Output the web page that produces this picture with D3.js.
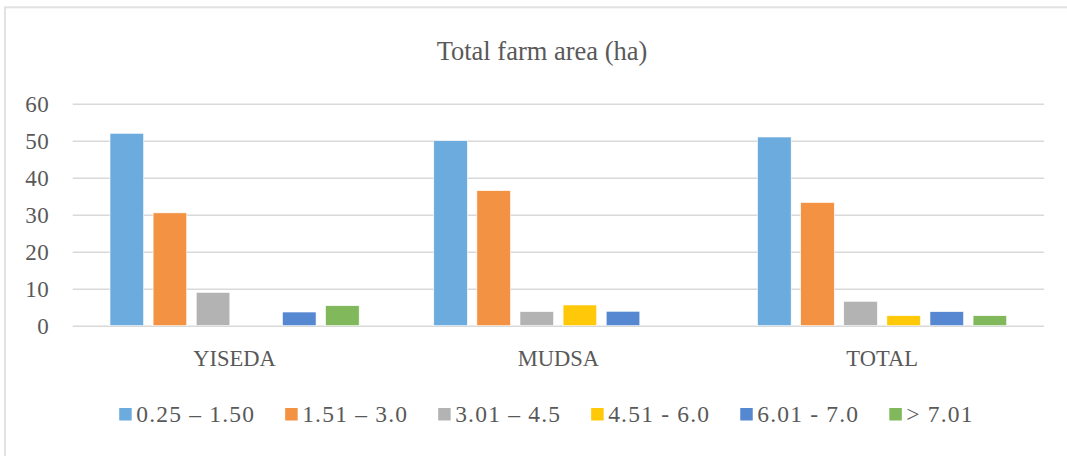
<!DOCTYPE html>
<html>
<head>
<meta charset="utf-8">
<script src="https://cdn.jsdelivr.net/npm/d3@7"></script>
<style>
  html, body { margin: 0; padding: 0; background: #fff; }
  svg { display: block; }
</style>
</head>
<body>
<svg id="chart" width="1067" height="456"></svg>
<script>
// Farm size classes (ha) and the share of households in each, by site
const categories = ["YISEDA", "MUDSA", "TOTAL"];
const seriesNames = ["0.25 – 1.50", "1.51 – 3.0", "3.01 – 4.5", "4.51 - 6.0", "6.01 - 7.0", "> 7.01"];
const yiseda = [52, 30.5, 9, 0, 3.7, 5.4];
const mudsa  = [50, 36.5, 3.8, 5.6, 3.9, 0];
const total  = [51, 33.3, 6.6, 2.7, 3.8, 2.7];
const yTicks = [0, 10, 20, 30, 40, 50, 60];
const colors = ["#6CABDD", "#F39243", "#B3B3B3", "#FFC90A", "#5688D1", "#80B85B"];

const rows = [yiseda, mudsa, total];

const svg = d3.select("#chart");
const W = 1067, H = 456;
const margin = { left: 72.7, right: W - 1044, top: 103.7, bottom: H - 325.7 };
const textColor = "#595959";
const serif = "Liberation Serif, serif";

// chart frame
svg.append("rect")
  .attr("x", 5).attr("y", 7.3)
  .attr("width", 1120).attr("height", 520)
  .attr("fill", "#fff")
  .attr("stroke", "#e2e2e2")
  .attr("stroke-width", 2);

// title
svg.append("text")
  .attr("x", 542).attr("y", 59.5)
  .attr("text-anchor", "middle")
  .attr("font-family", serif)
  .attr("font-size", 26.5)
  .attr("fill", textColor)
  .text("Total farm area (ha)");

const x0 = d3.scaleBand()
  .domain(categories)
  .range([margin.left, W - margin.right])
  .padding(0);

const x1 = d3.scaleBand()
  .domain(seriesNames)
  .range([37.3, x0.bandwidth() - 37.3])
  .paddingInner(0.22)
  .paddingOuter(0);

const y = d3.scaleLinear()
  .domain([0, 60])
  .range([H - margin.bottom, margin.top]);

// gridlines
const yAxis = d3.axisLeft(y)
  .tickValues(yTicks)
  .tickSize(-(W - margin.left - margin.right))
  .tickPadding(23.5)
  .tickFormat(d3.format("d"));

const gy = svg.append("g")
  .attr("transform", `translate(${margin.left},0)`)
  .call(yAxis);
gy.select(".domain").remove();
gy.selectAll(".tick line")
  .attr("stroke", "#d9d9d9")
  .attr("stroke-width", 1.6);
gy.selectAll(".tick text")
  .attr("font-family", serif)
  .attr("font-size", 23)
  .attr("letter-spacing", 0.5)
  .attr("fill", textColor);

// bars
const groups = svg.append("g")
  .selectAll("g")
  .data(categories)
  .join("g")
  .attr("transform", d => `translate(${x0(d)},0)`);

groups.selectAll("rect")
  .data((d, i) => seriesNames.map((s, j) => ({ s, j, v: rows[i][j] })))
  .join("rect")
  .attr("x", d => x1(d.s))
  .attr("width", x1.bandwidth())
  .attr("y", d => y(d.v))
  .attr("height", d => y(0) - y(d.v))
  .attr("fill", d => colors[d.j])
  .attr("stroke", "#fff")
  .attr("stroke-width", 0.6);

// category labels
const xAxis = d3.axisBottom(x0).tickSize(0).tickPadding(24);
const gx = svg.append("g")
  .attr("transform", `translate(0,${y(0)})`)
  .call(xAxis);
gx.select(".domain").remove();
gx.selectAll(".tick text")
  .attr("font-family", serif)
  .attr("font-size", 22.5)
  .attr("fill", textColor);

// legend
const legend = svg.append("g");
const items = legend.selectAll("g")
  .data(seriesNames)
  .join("g");
items.append("rect")
  .attr("width", 12.5).attr("height", 12.5)
  .attr("y", 408)
  .attr("fill", (d, i) => colors[i]);
items.append("text")
  .attr("x", 17)
  .attr("y", 422)
  .attr("font-family", serif)
  .attr("font-size", 23.5)
  .attr("letter-spacing", 1.2)
  .attr("fill", textColor)
  .text(d => d);

let cursor = 0;
items.each(function () {
  const g = d3.select(this);
  g.attr("transform", `translate(${cursor},0)`);
  const tw = g.select("text").node().getComputedTextLength();
  cursor += 17 + tw + 30;
});
const legendWidth = cursor - 30;
legend.attr("transform", `translate(${546.5 - legendWidth / 2},0)`);
</script>
</body>
</html>
